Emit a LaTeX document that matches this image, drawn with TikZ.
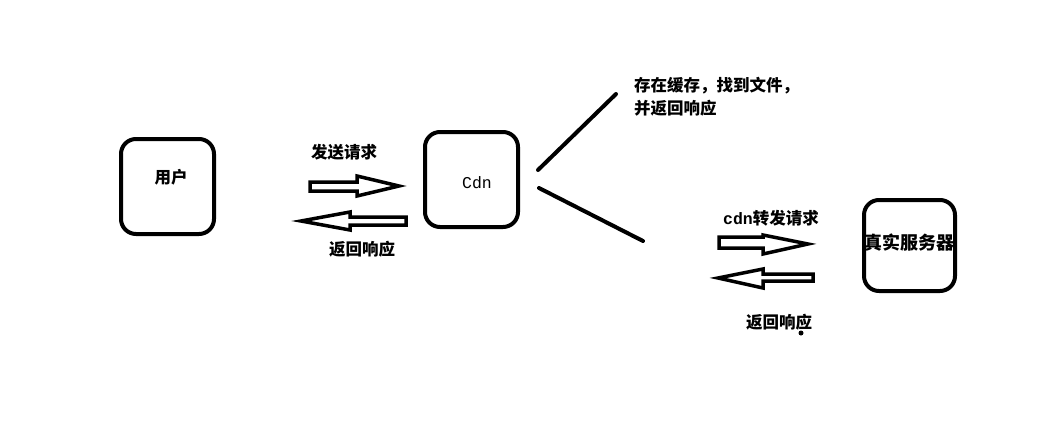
\documentclass[tikz,border=0pt]{standalone}
\usepackage{fontspec}
\newfontfamily\cjk{Noto Sans CJK SC}
\newfontfamily\mono{Liberation Mono}
\usepackage{tikz}
\usetikzlibrary{positioning}

\tikzset{
    box/.style={draw, line width=4pt, rounded corners=15pt, minimum width=93pt, minimum height=95pt},
    lbl/.style={font=\cjk\bfseries\fontsize{16.5}{22}\selectfont, inner sep=0pt},
    fatarrow/.style={draw, line width=3.5pt, line join=miter, fill=white},
    branch/.style={line width=4pt, line cap=round}
}

\begin{document}
\begin{tikzpicture}[x=1pt, y=-1pt]
    \useasboundingbox (0,0) rectangle (1049,431);

    % 1. Boxes
    \node[box] (user) at (167.5,186.5) {};
    \node[box] (cdn) at (471.5,179.5) {};
    \node[box, minimum width=91pt, minimum height=91pt] (server) at (909.5,245.5) {};

    % 2. Box texts
    \node[lbl] (usertext) at (171,177) {用户};
    \node[lbl, font=\mono\fontsize{16.5}{22}\selectfont] (cdntext) at (477,183) {Cdn};
    \node[lbl, font=\cjk\bfseries\fontsize{18}{22}\selectfont] (servertext) at (909.5,243) {真实服务器};

    % 3. Block arrows between user and cdn
    \draw[fatarrow] (310,182) -- (357,182) -- (357,176) -- (399,186) -- (357,196) -- (357,191) -- (310,191) -- cycle;
    \draw[fatarrow] (406,217) -- (350,217) -- (350,212) -- (301,221) -- (350,230) -- (350,225) -- (406,225) -- cycle;
    \node[lbl] (send) at (344,152) {发送请求};
    \node[lbl] (back) at (362,249) {返回响应};

    % 4. Two branches out of the cdn
    \coordinate (hitstart) at (538,170);
    \coordinate (hitend) at (616,94);
    \coordinate (missstart) at (539,188);
    \coordinate (missend) at (643,241);
    \draw[branch] (hitstart) -- (hitend);
    \draw[branch] (missstart) -- (missend);
    \node[lbl, align=left, anchor=north west, font=\cjk\bfseries\fontsize{16.5}{23}\selectfont] (hit) at (634,77) {存在缓存，找到文件，\\并返回响应};

    % 5. Block arrows between cdn and server
    \draw[fatarrow] (719,237) -- (763,237) -- (763,235) -- (808,244) -- (763,254) -- (763,248) -- (719,248) -- cycle;
    \draw[fatarrow] (813,274) -- (763,274) -- (763,269) -- (718,278) -- (763,288) -- (763,281) -- (813,281) -- cycle;
    \node[lbl] (forward) at (771,218) {{\mono cdn}转发请求};
    \node[lbl] (back2) at (779,322) {返回响应};
    \fill (801,333) circle (2.5pt);
\end{tikzpicture}
\end{document}
